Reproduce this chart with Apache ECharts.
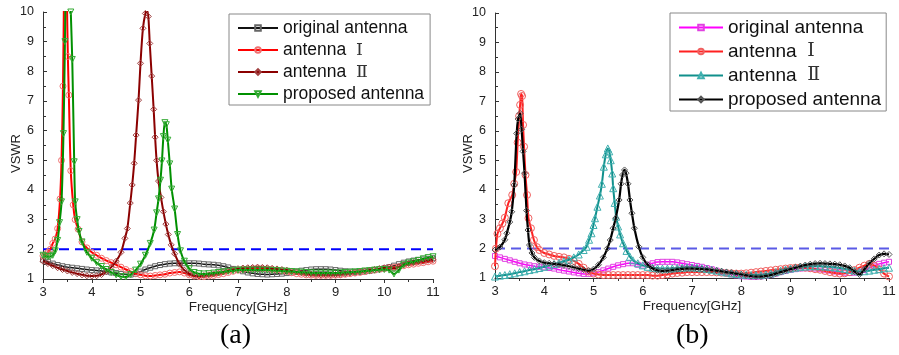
<!DOCTYPE html>
<html>
<head>
<meta charset="utf-8">
<script src="https://cdn.jsdelivr.net/npm/echarts@6/dist/echarts.min.js"></script>
<style>
html,body{margin:0;padding:0;background:#fff}
#wrap{position:relative;width:899px;height:355px}
#ca{position:absolute;left:0;top:0;width:450px;height:355px}
#cb{position:absolute;left:450px;top:0;width:449px;height:355px}
</style>
</head>
<body>
<div id="wrap"><div id="ca"></div><div id="cb"></div></div>
<script>
// ---------- data (frequency GHz, VSWR) ----------
const seriesNames = ['original antenna', 'antenna Ⅰ', 'antenna Ⅱ', 'proposed antenna'];
const xTicks = [3, 4, 5, 6, 7, 8, 9, 10, 11];
const yTicks = [1, 2, 3, 4, 5, 6, 7, 8, 9, 10];
const threshold = 2;
const panelLabels = ['(a)', '(b)'];

// (a)
const aOriginal = [[3.0,1.65],[3.1,1.58],[3.2,1.52],[3.3,1.47],[3.4,1.43],[3.5,1.4],[3.6,1.38],[3.7,1.36],[3.8,1.34],[3.9,1.32],[4.0,1.3],[4.1,1.29],[4.2,1.27],[4.3,1.25],[4.4,1.22],[4.5,1.2],[4.6,1.17],[4.7,1.15],[4.8,1.15],[4.9,1.18],[5.0,1.25],[5.1,1.32],[5.2,1.38],[5.3,1.43],[5.4,1.47],[5.5,1.5],[5.6,1.52],[5.7,1.53],[5.8,1.53],[5.9,1.53],[6.0,1.53],[6.1,1.53],[6.2,1.52],[6.3,1.5],[6.4,1.49],[6.5,1.48],[6.6,1.46],[6.7,1.43],[6.8,1.39],[6.9,1.34],[7.0,1.3],[7.1,1.26],[7.2,1.22],[7.3,1.19],[7.4,1.17],[7.5,1.16],[7.6,1.15],[7.7,1.16],[7.8,1.17],[7.9,1.18],[8.0,1.2],[8.1,1.22],[8.2,1.25],[8.3,1.28],[8.4,1.3],[8.5,1.32],[8.6,1.33],[8.7,1.33],[8.8,1.33],[8.9,1.32],[9.0,1.3],[9.1,1.28],[9.2,1.26],[9.3,1.25],[9.4,1.24],[9.5,1.24],[9.6,1.25],[9.7,1.27],[9.8,1.3],[9.9,1.33],[10.0,1.36],[10.1,1.4],[10.2,1.45],[10.3,1.5],[10.4,1.55],[10.5,1.59],[10.6,1.62],[10.7,1.64],[10.8,1.66],[10.9,1.68],[11.0,1.7]];
const aAntenna1 = [[3.0,1.78],[3.05,1.82],[3.1,1.9],[3.15,2.0],[3.2,2.2],[3.25,2.35],[3.3,2.7],[3.35,3.7],[3.38,5.0],[3.41,7.5],[3.43,10.5],[3.46,15],[3.49,10.5],[3.51,8.5],[3.53,7.2],[3.57,4.65],[3.62,3.5],[3.66,3.0],[3.72,2.68],[3.8,2.25],[3.9,2.05],[4.0,1.9],[4.1,1.8],[4.2,1.7],[4.3,1.62],[4.4,1.55],[4.5,1.48],[4.6,1.4],[4.7,1.32],[4.8,1.25],[4.9,1.18],[5.0,1.14],[5.1,1.11],[5.2,1.1],[5.3,1.12],[5.4,1.14],[5.5,1.16],[5.6,1.2],[5.7,1.22],[5.8,1.24],[5.9,1.2],[6.0,1.14],[6.1,1.1],[6.2,1.08],[6.3,1.08],[6.4,1.1],[6.5,1.12],[6.6,1.15],[6.7,1.18],[6.8,1.22],[6.9,1.26],[7.0,1.3],[7.1,1.32],[7.2,1.34],[7.3,1.35],[7.4,1.36],[7.5,1.35],[7.6,1.34],[7.7,1.32],[7.8,1.3],[7.9,1.28],[8.0,1.25],[8.1,1.21],[8.2,1.18],[8.3,1.16],[8.4,1.14],[8.5,1.13],[8.6,1.12],[8.7,1.12],[8.8,1.12],[8.9,1.12],[9.0,1.13],[9.1,1.14],[9.2,1.16],[9.3,1.18],[9.4,1.2],[9.5,1.22],[9.6,1.25],[9.7,1.28],[9.8,1.3],[9.9,1.33],[10.0,1.35],[10.1,1.38],[10.2,1.4],[10.3,1.42],[10.4,1.45],[10.5,1.48],[10.6,1.5],[10.7,1.53],[10.8,1.55],[10.9,1.58],[11.0,1.6]];
const aAntenna2 = [[3.0,1.6],[3.1,1.52],[3.2,1.45],[3.3,1.38],[3.4,1.32],[3.5,1.27],[3.6,1.22],[3.7,1.18],[3.8,1.14],[3.9,1.11],[4.0,1.1],[4.1,1.11],[4.2,1.15],[4.3,1.25],[4.4,1.4],[4.5,1.6],[4.6,1.9],[4.68,2.37],[4.73,2.7],[4.79,3.56],[4.83,4.17],[4.87,4.9],[4.91,5.85],[4.96,7.03],[5.0,8.27],[5.05,9.45],[5.1,9.95],[5.13,10.05],[5.16,9.85],[5.19,8.94],[5.23,7.84],[5.27,6.72],[5.3,5.78],[5.33,5.0],[5.37,4.3],[5.42,3.75],[5.47,3.27],[5.52,2.85],[5.57,2.5],[5.63,2.15],[5.7,1.85],[5.8,1.5],[5.9,1.3],[6.0,1.18],[6.1,1.12],[6.2,1.1],[6.3,1.12],[6.4,1.14],[6.5,1.17],[6.6,1.2],[6.7,1.24],[6.8,1.28],[6.9,1.32],[7.0,1.35],[7.1,1.37],[7.2,1.38],[7.3,1.39],[7.4,1.4],[7.5,1.39],[7.6,1.38],[7.7,1.36],[7.8,1.34],[7.9,1.32],[8.0,1.3],[8.1,1.27],[8.2,1.24],[8.3,1.21],[8.4,1.18],[8.5,1.16],[8.6,1.15],[8.7,1.14],[8.8,1.14],[8.9,1.14],[9.0,1.15],[9.1,1.16],[9.2,1.18],[9.3,1.2],[9.4,1.22],[9.5,1.25],[9.6,1.27],[9.7,1.3],[9.8,1.32],[9.9,1.35],[10.0,1.38],[10.1,1.4],[10.2,1.35],[10.3,1.4],[10.4,1.48],[10.5,1.52],[10.6,1.55],[10.7,1.58],[10.8,1.6],[10.9,1.63],[11.0,1.65]];
const aProposed = [[3.0,1.8],[3.05,1.77],[3.1,1.75],[3.15,1.76],[3.2,1.8],[3.25,1.95],[3.3,2.3],[3.34,2.9],[3.38,3.6],[3.42,5.9],[3.45,9],[3.48,13],[3.51,16],[3.54,12],[3.57,10],[3.6,8.4],[3.64,4.95],[3.66,3.6],[3.7,3.0],[3.74,2.6],[3.8,2.25],[3.9,1.9],[4.0,1.7],[4.1,1.55],[4.2,1.42],[4.3,1.32],[4.4,1.22],[4.5,1.14],[4.6,1.08],[4.7,1.07],[4.8,1.15],[4.9,1.3],[5.0,1.5],[5.1,1.8],[5.2,2.2],[5.28,2.65],[5.33,3.23],[5.37,3.7],[5.41,4.33],[5.44,4.98],[5.47,5.8],[5.5,6.27],[5.53,6.2],[5.56,5.68],[5.6,4.88],[5.64,4.03],[5.7,3.36],[5.76,2.5],[5.82,1.95],[5.9,1.6],[6.0,1.35],[6.1,1.22],[6.2,1.18],[6.3,1.17],[6.4,1.18],[6.5,1.2],[6.6,1.22],[6.7,1.24],[6.8,1.26],[6.9,1.28],[7.0,1.3],[7.1,1.3],[7.2,1.3],[7.3,1.3],[7.4,1.3],[7.5,1.3],[7.6,1.3],[7.7,1.29],[7.8,1.28],[7.9,1.27],[8.0,1.26],[8.1,1.25],[8.2,1.24],[8.3,1.23],[8.4,1.22],[8.5,1.21],[8.6,1.2],[8.7,1.2],[8.8,1.2],[8.9,1.2],[9.0,1.2],[9.1,1.21],[9.2,1.22],[9.3,1.23],[9.4,1.24],[9.5,1.25],[9.6,1.27],[9.7,1.28],[9.8,1.3],[9.9,1.31],[10.0,1.32],[10.1,1.3],[10.2,1.17],[10.3,1.3],[10.4,1.48],[10.5,1.54],[10.6,1.58],[10.7,1.63],[10.8,1.68],[10.9,1.72],[11.0,1.75]];

// (b)
const bOriginal = [[3.0,1.75],[3.1,1.7],[3.2,1.65],[3.3,1.6],[3.4,1.55],[3.5,1.5],[3.6,1.46],[3.7,1.43],[3.8,1.4],[3.9,1.38],[4.0,1.36],[4.1,1.34],[4.2,1.32],[4.3,1.28],[4.4,1.25],[4.5,1.22],[4.6,1.19],[4.7,1.16],[4.8,1.14],[4.9,1.14],[5.0,1.16],[5.1,1.2],[5.2,1.26],[5.3,1.32],[5.4,1.38],[5.5,1.43],[5.6,1.47],[5.7,1.5],[5.8,1.5],[5.9,1.45],[6.0,1.42],[6.1,1.45],[6.2,1.5],[6.3,1.54],[6.4,1.55],[6.5,1.55],[6.6,1.55],[6.7,1.53],[6.8,1.5],[6.9,1.47],[7.0,1.44],[7.1,1.41],[7.2,1.38],[7.3,1.34],[7.4,1.3],[7.5,1.25],[7.6,1.2],[7.7,1.16],[7.8,1.12],[7.9,1.09],[8.0,1.06],[8.1,1.05],[8.2,1.04],[8.3,1.04],[8.4,1.05],[8.5,1.07],[8.6,1.1],[8.7,1.15],[8.8,1.2],[8.9,1.24],[9.0,1.28],[9.1,1.3],[9.2,1.32],[9.3,1.33],[9.4,1.33],[9.5,1.32],[9.6,1.3],[9.7,1.28],[9.8,1.25],[9.9,1.22],[10.0,1.2],[10.1,1.18],[10.2,1.17],[10.3,1.18],[10.4,1.2],[10.5,1.27],[10.6,1.35],[10.7,1.42],[10.8,1.48],[10.9,1.52],[11.0,1.55]];
const bAntenna1 = [[3.0,1.4],[3.02,2.0],[3.05,2.5],[3.1,2.69],[3.15,2.85],[3.2,3.05],[3.27,3.54],[3.35,3.82],[3.39,4.2],[3.43,4.6],[3.46,5.6],[3.49,6.5],[3.51,6.88],[3.53,7.25],[3.55,7.18],[3.57,6.2],[3.59,5.46],[3.62,4.5],[3.65,3.82],[3.68,3.03],[3.73,2.69],[3.79,2.29],[3.85,2.05],[3.9,1.95],[4.0,1.85],[4.1,1.8],[4.2,1.75],[4.3,1.72],[4.4,1.7],[4.5,1.65],[4.6,1.58],[4.7,1.48],[4.8,1.35],[4.9,1.22],[5.0,1.15],[5.1,1.12],[5.2,1.1],[5.3,1.1],[5.4,1.1],[5.5,1.1],[5.6,1.1],[5.7,1.1],[5.8,1.1],[5.9,1.1],[6.0,1.1],[6.1,1.1],[6.2,1.08],[6.3,1.08],[6.4,1.1],[6.5,1.12],[6.6,1.15],[6.7,1.17],[6.8,1.18],[6.9,1.2],[7.0,1.2],[7.1,1.2],[7.2,1.2],[7.3,1.2],[7.4,1.2],[7.5,1.19],[7.6,1.18],[7.7,1.17],[7.8,1.16],[7.9,1.15],[8.0,1.15],[8.1,1.16],[8.2,1.18],[8.3,1.2],[8.4,1.22],[8.5,1.24],[8.6,1.26],[8.7,1.28],[8.8,1.3],[8.9,1.32],[9.0,1.34],[9.1,1.35],[9.2,1.36],[9.3,1.35],[9.4,1.33],[9.5,1.3],[9.6,1.28],[9.7,1.24],[9.8,1.2],[9.9,1.17],[10.0,1.15],[10.1,1.16],[10.2,1.2],[10.3,1.27],[10.4,1.35],[10.5,1.42],[10.6,1.48],[10.7,1.42],[10.8,1.3],[10.9,1.15],[11.0,1.05]];
const bAntenna2 = [[3.0,1.05],[3.1,1.08],[3.2,1.1],[3.3,1.13],[3.4,1.16],[3.5,1.2],[3.6,1.23],[3.7,1.27],[3.8,1.3],[3.9,1.34],[4.0,1.38],[4.1,1.42],[4.2,1.47],[4.3,1.52],[4.4,1.57],[4.5,1.62],[4.6,1.7],[4.7,1.8],[4.8,1.95],[4.86,2.06],[4.91,2.3],[4.96,2.52],[5.0,2.8],[5.03,3.03],[5.08,3.42],[5.13,3.8],[5.17,4.2],[5.21,4.78],[5.25,5.2],[5.29,5.4],[5.32,5.3],[5.35,5.0],[5.38,4.55],[5.4,4.05],[5.43,3.55],[5.46,3.08],[5.5,2.75],[5.54,2.48],[5.6,2.18],[5.67,1.92],[5.74,1.72],[5.8,1.6],[5.9,1.5],[6.0,1.43],[6.1,1.38],[6.2,1.35],[6.3,1.33],[6.4,1.32],[6.5,1.32],[6.6,1.33],[6.7,1.34],[6.8,1.35],[6.9,1.36],[7.0,1.36],[7.1,1.35],[7.2,1.33],[7.3,1.31],[7.4,1.28],[7.5,1.25],[7.6,1.22],[7.7,1.19],[7.8,1.16],[7.9,1.14],[8.0,1.12],[8.1,1.11],[8.2,1.1],[8.3,1.1],[8.4,1.1],[8.5,1.12],[8.6,1.15],[8.7,1.2],[8.8,1.25],[8.9,1.29],[9.0,1.32],[9.1,1.35],[9.2,1.38],[9.3,1.39],[9.4,1.4],[9.5,1.4],[9.6,1.4],[9.7,1.39],[9.8,1.38],[9.9,1.36],[10.0,1.34],[10.1,1.31],[10.2,1.28],[10.3,1.25],[10.4,1.22],[10.5,1.23],[10.6,1.25],[10.7,1.28],[10.8,1.3],[10.9,1.33],[11.0,1.35]];
const bProposed = [[3.0,1.95],[3.1,2.05],[3.2,2.3],[3.24,2.52],[3.3,2.9],[3.34,3.25],[3.39,4.16],[3.44,5.91],[3.47,6.4],[3.51,6.59],[3.54,6.05],[3.57,5.3],[3.6,4.56],[3.64,3.29],[3.67,2.63],[3.7,2.12],[3.75,1.85],[3.8,1.7],[3.9,1.58],[4.0,1.52],[4.1,1.5],[4.2,1.48],[4.3,1.46],[4.4,1.43],[4.5,1.4],[4.6,1.36],[4.7,1.32],[4.8,1.28],[4.9,1.25],[5.0,1.3],[5.1,1.45],[5.2,1.7],[5.28,2.0],[5.34,2.29],[5.4,2.69],[5.45,3.03],[5.52,3.65],[5.56,4.2],[5.59,4.5],[5.63,4.67],[5.66,4.56],[5.7,4.2],[5.74,3.65],[5.78,3.2],[5.83,2.69],[5.92,2.06],[6.0,1.7],[6.1,1.45],[6.2,1.32],[6.3,1.26],[6.4,1.24],[6.5,1.25],[6.6,1.27],[6.7,1.29],[6.8,1.31],[6.9,1.32],[7.0,1.32],[7.1,1.31],[7.2,1.3],[7.3,1.29],[7.4,1.27],[7.5,1.25],[7.6,1.23],[7.7,1.2],[7.8,1.18],[7.9,1.15],[8.0,1.12],[8.1,1.09],[8.2,1.06],[8.3,1.05],[8.4,1.05],[8.5,1.07],[8.6,1.1],[8.7,1.15],[8.8,1.2],[8.9,1.25],[9.0,1.3],[9.1,1.35],[9.2,1.4],[9.3,1.44],[9.4,1.47],[9.5,1.49],[9.6,1.5],[9.7,1.49],[9.8,1.48],[9.9,1.47],[10.0,1.45],[10.1,1.41],[10.2,1.35],[10.3,1.22],[10.4,1.12],[10.5,1.3],[10.6,1.5],[10.7,1.65],[10.8,1.78],[10.9,1.82],[11.0,1.8]];

// ---------- chart helpers ----------
const FONT = 'Arial, "Liberation Sans", sans-serif';

function lineSeries(name, data, color, markerColor, symbol, size, rotate, width, z) {
  return {
    type: 'line', name: name, data: data,
    smooth: 0.3, symbol: symbol, symbolSize: size, symbolRotate: rotate || 0,
    showSymbol: true, clip: true, z: z,
    lineStyle: {color: color, width: width},
    itemStyle: {color: 'rgba(255,255,255,0)', borderColor: markerColor, borderWidth: 1},
    emphasis: {disabled: true}
  };
}
function thresholdSeries(color) {
  return {
    type: 'line', name: 'VSWR=2', data: [[xTicks[0], threshold], [xTicks[xTicks.length - 1], threshold]],
    symbol: 'none', z: 1,
    lineStyle: {color: color, width: 2, type: [10, 6]}, emphasis: {disabled: true}
  };
}
function xAxisDef() {
  return {
    type: 'value', min: xTicks[0], max: xTicks[xTicks.length - 1], interval: 1,
    name: 'Frequency[GHz]', nameLocation: 'middle', nameGap: 21, nameMoveOverlap: false,
    nameTextStyle: {fontFamily: FONT, fontSize: 13.5, color: '#222'},
    axisLine: {show: true, onZero: false, lineStyle: {color: '#333', width: 1}},
    axisTick: {show: true, length: 4, lineStyle: {color: '#333'}},
    minorTick: {show: true, splitNumber: 2, length: 3, lineStyle: {color: '#333'}},
    splitLine: {show: false},
    axisLabel: {fontFamily: FONT, fontSize: 13, color: '#222', margin: 7}
  };
}
function yAxisDef() {
  return {
    type: 'value', min: yTicks[0], max: yTicks[yTicks.length - 1], interval: 1,
    name: 'VSWR', nameLocation: 'middle', nameGap: 20, nameMoveOverlap: false,
    nameTextStyle: {fontFamily: FONT, fontSize: 13, color: '#222', padding: [0, 16, 0, 0]},
    axisLine: {show: true, lineStyle: {color: '#333', width: 1}},
    axisTick: {show: true, inside: true, length: 4, lineStyle: {color: '#333'}},
    minorTick: {show: true, splitNumber: 2, length: 3, lineStyle: {color: '#333'}},
    splitLine: {show: false},
    axisLabel: {fontFamily: FONT, fontSize: 12.5, color: '#222', margin: 9}
  };
}
function legendFormatter(name) {
  if (name === seriesNames[1]) return 'antenna  {r|Ⅰ}';
  if (name === seriesNames[2]) return 'antenna  {r|Ⅱ}';
  return name;
}
function legendDef(left, top, fontSize, itemWidth, itemGap, padding) {
  return {
    show: true, orient: 'vertical', left: left, top: top,
    data: seriesNames, formatter: legendFormatter,
    itemWidth: itemWidth, itemHeight: 7, itemGap: itemGap, padding: padding,
    borderColor: '#888', borderWidth: 1, backgroundColor: '#fff', borderRadius: 0,
    selectedMode: false,
    textStyle: {fontFamily: FONT, fontSize: fontSize, color: '#111', padding: [0, 0, 0, 0],
      rich: {r: {fontFamily: '"DejaVu Serif", "Liberation Serif", serif', fontSize: fontSize, color: '#333'}}}
  };
}
function panelLabel(left, text) {
  return {type: 'text', left: left, top: 322,
    style: {text: text, font: '28px "Liberation Serif", "Times New Roman", serif', fill: '#000'}};
}

// ---------- (a) ----------
const chartA = echarts.init(document.getElementById('ca'), null, {renderer: 'canvas'});
chartA.setOption({
  animation: false,
  backgroundColor: '#fff',
  grid: {left: 43, top: 12, width: 390, height: 267, containLabel: false, outerBoundsMode: 'none'},
  xAxis: xAxisDef(),
  yAxis: yAxisDef(),
  legend: legendDef(229, 14, 17.5, 40, 4, [5, 6, 2, 8]),
  graphic: [panelLabel(220, panelLabels[0])],
  series: [
    thresholdSeries('#0000ff'),
    lineSeries(seriesNames[0], aOriginal, '#111111', '#666666', 'rect', 5, 0, 1.5, 2),
    lineSeries(seriesNames[1], aAntenna1, '#ff0000', '#f07070', 'circle', 6, 0, 2, 3),
    lineSeries(seriesNames[2], aAntenna2, '#8b0000', '#a04040', 'diamond', 6, 0, 2, 4),
    lineSeries(seriesNames[3], aProposed, '#009000', '#33aa33', 'triangle', 6, 180, 2, 5)
  ]
});

// ---------- (b) ----------
const chartB = echarts.init(document.getElementById('cb'), null, {renderer: 'canvas'});
chartB.setOption({
  animation: false,
  backgroundColor: '#fff',
  grid: {left: 45, top: 13, width: 394, height: 265, containLabel: false, outerBoundsMode: 'none'},
  xAxis: xAxisDef(),
  yAxis: yAxisDef(),
  legend: legendDef(220, 13, 19, 44, 5, [5, 5, 2, 8]),
  graphic: [panelLabel(226, panelLabels[1])],
  series: [
    thresholdSeries('#5a5ae6'),
    lineSeries(seriesNames[0], bOriginal, '#ff00ff', '#e040e0', 'rect', 5, 0, 1.5, 2),
    lineSeries(seriesNames[1], bAntenna1, '#ff2020', '#f06060', 'circle', 7, 0, 2, 3),
    lineSeries(seriesNames[2], bAntenna2, '#10908c', '#40b0b0', 'triangle', 7, 0, 2, 4),
    lineSeries(seriesNames[3], bProposed, '#000000', '#555555', 'diamond', 6, 0, 2.2, 5)
  ]
});
</script>
</body>
</html>
